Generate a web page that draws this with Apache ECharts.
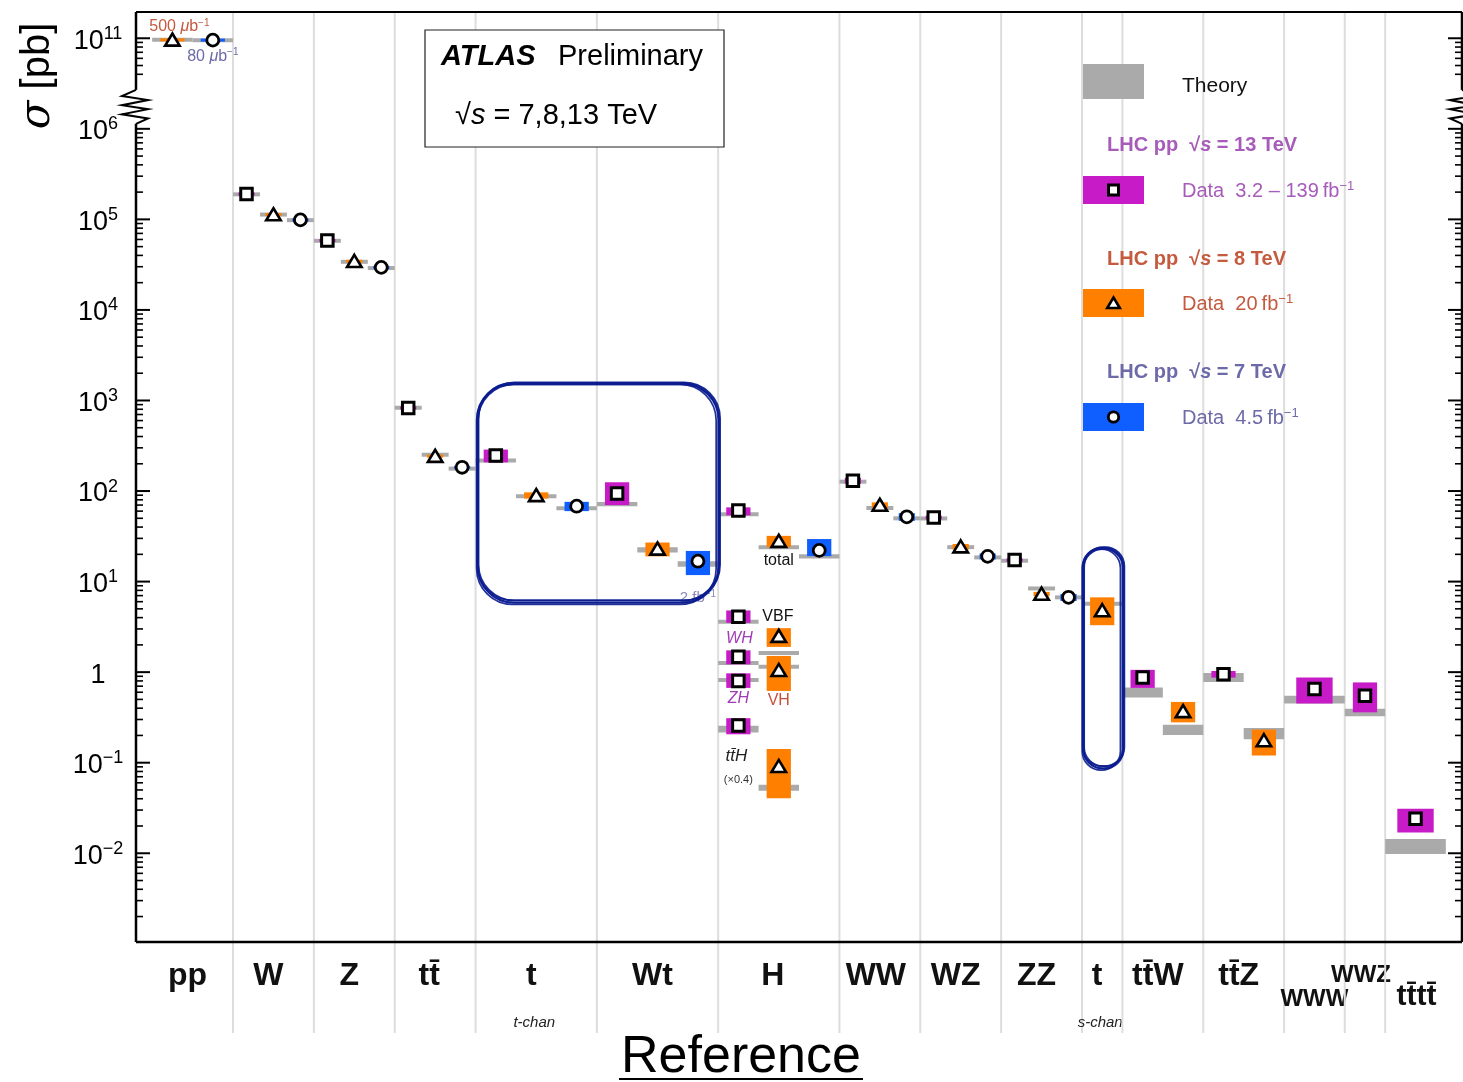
<!DOCTYPE html>
<html>
<head>
<meta charset="utf-8">
<script src="https://cdn.jsdelivr.net/npm/echarts@6/dist/echarts.min.js"></script>
<style>
  html, body { margin: 0; padding: 0; background: #ffffff; }
  #chart { width: 1463px; height: 1082px; }
</style>
</head>
<body>
<div id="chart"></div>
<script>
// ---------------- data ----------------
const categories = ['pp', 'W', 'Z', 'tt\u0304', 't', 'Wt', 'H', 'WW', 'WZ', 'ZZ', 't', 'tt\u0304W', 'tt\u0304Z', 'WWW', 'WWZ', 'tt\u0304tt\u0304'];
const categoryNotes = ['', '', '', '', 't-chan', '', '', '', '', '', 's-chan', '', '', '', '', ''];

// 13 TeV measurements [pb]
const names13  = ['W', 'Z', 'tt', 't-chan', 'Wt', 'H total', 'H VBF', 'H WH', 'H ZH', 'ttH x0.4', 'WW', 'WZ', 'ZZ', 'ttW', 'ttZ', 'WWW', 'WWZ', 'tttt'];
const val13    = [1.901e5, 5.843e4, 826, 247, 94, 61, 4.1, 1.48, 0.80, 0.258, 130, 51.0, 17.3, 0.87, 0.95, 0.65, 0.55, 0.024];
const errUp13  = [0.05e5, 0.15e4, 20, 40, 31, 5, 0.7, 0.26, 0.17, 0.052, 10, 2.4, 0.7, 0.19, 0.08, 0.22, 0.22, 0.007];
const errDn13  = [0.05e5, 0.15e4, 20, 40, 24, 7, 0.6, 0.26, 0.13, 0.052, 10, 2.4, 0.7, 0.20, 0.08, 0.20, 0.19, 0.007];
const theo13   = [1.89e5, 5.80e4, 832, 217, 71.7, 55.6, 3.6, 1.26, 0.82, 0.236, 127, 49.8, 17.0, 0.60, 0.88, 0.50, 0.36, 0.0121];
const theoErr13 = [0.04e5, 0.12e4, 30, 9, 3.8, 2.5, 0.1, 0.03, 0.03, 0.02, 4, 1.0, 0.5, 0.075, 0.10, 0.05, 0.035, 0.0023];

// 8 TeV measurements [pb]
const names8   = ['pp', 'W', 'Z', 'tt', 't-chan', 'Wt', 'H total', 'H VBF', 'H VH', 'ttH x0.4', 'WW', 'WZ', 'ZZ', 't s-chan', 'ttW', 'ttZ'];
const val8     = [9.607e10, 1.13e5, 3.45e4, 243, 89.6, 23.0, 28.0, 2.5, 1.05, 0.0914, 70, 24.3, 7.3, 4.8, 0.369, 0.176];
const errUp8   = [0.2e10, 0.03e5, 0.1e4, 8, 7.1, 4.0, 4.0, 0.56, 0.46, 0.050, 5, 1.7, 0.4, 1.9, 0.10, 0.056];
const errDn8   = [0.2e10, 0.03e5, 0.1e4, 8, 7.1, 4.0, 4.0, 0.60, 0.43, 0.051, 5, 1.7, 0.4, 1.5, 0.09, 0.056];
const theo8    = [9.65e10, 1.13e5, 3.40e4, 252, 87.8, 22.4, 24.0, 1.63, 1.15, 0.053, 65, 24.0, 8.4, 5.7, 0.232, 0.212];
const theoErr8 = [0.1e10, 0.03e5, 0.08e4, 10, 3, 1.5, 1.0, 0.04, 0.03, 0.004, 2, 0.5, 0.2, 0.2, 0.03, 0.03];

// 7 TeV measurements [pb]
const names7   = ['pp', 'W', 'Z', 'tt', 't-chan', 'Wt', 'H total', 'WW', 'WZ', 'ZZ'];
const val7     = [9.535e10, 9.87e4, 2.95e4, 183, 68, 16.8, 22.1, 51.9, 19.0, 6.7];
const errUp7   = [0.2e10, 0.25e4, 0.08e4, 6, 8, 5, 7.4, 5, 1.4, 0.6];
const errDn7   = [0.2e10, 0.25e4, 0.08e4, 6, 8, 5, 3.0, 5, 1.4, 0.6];
const theo7    = [9.5e10, 9.8e4, 2.9e4, 177, 64.6, 15.7, 19.0, 50, 18.5, 6.7];
const theoErr7 = [0.1e10, 0.2e4, 0.06e4, 8, 2, 1.1, 1.0, 2, 0.5, 0.2];

// y-axis tick labels (decades; the top one sits above the axis break)
const majorTickDecades = [-2, -1, 0, 1, 2, 3, 4, 5, 6, 11];
const majorTickLabels = ['{b|10}{s|\u22122}', '{b|10}{s|\u22121}', '{b|1}', '{b|10}{s|1}', '{b|10}{s|2}', '{b|10}{s|3}', '{b|10}{s|4}', '{b|10}{s|5}', '{b|10}{s|6}', '{b|10}{s|11}'];

// ---------------- layout ----------------
const X_MAX = 32.8;
const Y_MIN = -2.98, Y_MAX = 7.29;
const BREAK_SHIFT = 4;               // decades removed by the axis break (1e6 ... 1e10)
const catWidth = [2.4, 2, 2, 2, 3, 3, 3, 2, 2, 2, 1, 2, 2, 1.5, 1, 1.5];
const catLead  = [0.4, 0, 0, 0, 0, 0, 0, 0, 0, 0, 0, 0, 0, 0, 0, 0];
const catSlots = [2, 3, 3, 3, 3, 3, 3, 3, 3, 3, 1, 2, 2, 1, 1, 1];
const labelDx  = [3, -5, -5, -6, -5, -5, -6, -4, -5, -5, -5, -5, -5, 0, -4, 1];
const labelDy  = [34, 34, 34, 34, 34, 34, 34, 34, 34, 34, 34, 34, 34, 57, 33, 55];
const labelSize = [32, 32, 32, 32, 32, 32, 32, 32, 32, 32, 32, 32, 32, 24, 24, 30];

const cat13  = [1, 2, 3, 4, 5, 6, 6, 6, 6, 6, 7, 8, 9, 11, 12, 13, 14, 15];
const slot13 = cat13.map(() => 0);
const cat8   = [0, 1, 2, 3, 4, 5, 6, 6, 6, 6, 7, 8, 9, 10, 11, 12];
const slot8  = [0, 1, 1, 1, 1, 1, 1, 1, 1, 1, 1, 1, 1, 0, 1, 1];
const cat7   = [0, 1, 2, 3, 4, 5, 6, 7, 8, 9];
const slot7  = [1, 2, 2, 2, 2, 2, 2, 2, 2, 2];

const COL13 = '#c71bc8', COL8 = '#ff8000', COL7 = '#0f5eff', THEORY = '#aaaaaa';
const TXT13 = '#a65cb8', TXT8 = '#c45a3e', TXT7 = '#6c6aa8';
const FONT = '"Liberation Sans", Arial, Helvetica, sans-serif';
const MARK = 1.15;

const catStart = [];
{ let acc = 0; catWidth.forEach(w => { catStart.push(acc); acc += w; }); }
const slotWidth = c => (catWidth[c] - catLead[c]) / catSlots[c];
const slotCenter = (c, s) => catStart[c] + catLead[c] + slotWidth(c) * (s + 0.5);
// position on the broken log axis
const toAxis = v => { const l = Math.log10(v); return l >= 10 ? l - BREAK_SHIFT : l; };

// ---------------- build marks ----------------
function buildPoints(cats, slots, vals, up, dn, th, thErr, kind, color) {
  return vals.map((v, i) => ({
    x: slotCenter(cats[i], slots[i]), w: slotWidth(cats[i]),
    u: toAxis(v), lo: toAxis(v - dn[i]), hi: toAxis(v + up[i]),
    tlo: toAxis(th[i] - thErr[i]), thi: toAxis(th[i] + thErr[i]),
    kind, color
  }));
}
const points = [].concat(
  buildPoints(cat13, slot13, val13, errUp13, errDn13, theo13, theoErr13, 'sq', COL13),
  buildPoints(cat8, slot8, val8, errUp8, errDn8, theo8, theoErr8, 'tri', COL8),
  buildPoints(cat7, slot7, val7, errUp7, errDn7, theo7, theoErr7, 'circ', COL7)
);

function markerShape(kind, cx, cy, s) {
  s = s || 1;
  if (kind === 'sq') return { type: 'rect', shape: { x: cx - 5 * s, y: cy - 5 * s, width: 10 * s, height: 10 * s },
    style: { fill: '#fff', stroke: '#000', lineWidth: 3 } };
  if (kind === 'tri') return { type: 'polygon', shape: { points: [[cx, cy - 5.5 * s], [cx + 6.3 * s, cy + 5 * s], [cx - 6.3 * s, cy + 5 * s]] },
    style: { fill: '#fff', stroke: '#000', lineWidth: 2.6, lineJoin: 'miter' } };
  return { type: 'circle', shape: { cx, cy, r: 5.2 * s }, style: { fill: '#fff', stroke: '#000', lineWidth: 2.8 } };
}

function bandRect(api, x0, x1, lo, hi, minH, fill) {
  const a = api.coord([x0, hi]), b = api.coord([x1, lo]);
  let y0 = a[1], h = b[1] - a[1];
  if (h < minH) { y0 = (a[1] + b[1]) / 2 - minH / 2; h = minH; }
  return { type: 'rect', shape: { x: a[0], y: y0, width: b[0] - a[0], height: h }, style: { fill } };
}

// ---------------- axis ticks ----------------
const ticks = [];
majorTickDecades.forEach((d, i) => ticks.push({ u: d > 6 ? d - BREAK_SHIFT : d, major: true, label: majorTickLabels[i] }));
for (let d = -3; d <= 5; d++) for (let k = 2; k <= 9; k++) {
  const u = d + Math.log10(k);
  if (u > Y_MIN) ticks.push({ u, major: false });
}
for (let k = 4; k <= 9; k++) ticks.push({ u: 6 + Math.log10(k), major: false }); // 1e10 decade above the break

// ---------------- annotations near marks ----------------
const annotations = [
  { text: 'total', x: slotCenter(6, 1), v: val8[6], dx: 0, dy: 19, style: { fontSize: 16, fill: '#111' } },
  { text: 'VBF', x: slotCenter(6, 0), v: val13[6], dx: 24, dy: 0, align: 'left', style: { fontSize: 16, fill: '#111' } },
  { text: 'WH', x: slotCenter(6, 0), v: val13[7], dx: 1, dy: -18, style: { fontSize: 16, fill: '#a03cb4', fontStyle: 'italic' } },
  { text: 'ZH', x: slotCenter(6, 0), v: val13[8], dx: 0, dy: 18, style: { fontSize: 16, fill: '#a03cb4', fontStyle: 'italic' } },
  { text: 'VH', x: slotCenter(6, 1), v: val8[8], dx: 0, dy: 30, style: { fontSize: 16, fill: '#c8503a' } },
  { text: 'tt\u0304H', x: slotCenter(6, 0), v: val13[9], dx: -2, dy: 31, style: { fontSize: 17, fill: '#222', fontStyle: 'italic' } },
  { text: '(\u00d70.4)', x: slotCenter(6, 0), v: val13[9], dx: 0, dy: 55, style: { fontSize: 11, fill: '#333' } },
  { text: '500 {i|\u03bc}b{s|\u22121}', x: slotCenter(0, 0), v: val8[0], dx: 7, dy: -13, style: { fontSize: 16, fill: TXT8 } },
  { text: '80 {i|\u03bc}b{s|\u22121}', x: slotCenter(0, 1), v: val7[0], dx: 0, dy: 16, style: { fontSize: 16, fill: TXT7 } },
  { text: '2 fb{s|\u22121}', x: slotCenter(5, 2), v: val7[5], dx: 0, dy: 37, style: { fontSize: 15, fill: '#8a88bb' } }
];

const chart = echarts.init(document.getElementById('chart'), null, { renderer: 'canvas' });

const option = {
  animation: false,
  backgroundColor: '#ffffff',
  grid: { left: 136, top: 12, width: 1326, height: 930, show: false },
  xAxis: { type: 'value', min: 0, max: X_MAX, show: false },
  yAxis: { type: 'value', min: Y_MIN, max: Y_MAX, show: false },
  series: [
    { // category separators and labels
      type: 'custom', clip: false, z: 1,
      data: categories.map((c, i) => [catStart[i], 0]),
      encode: { x: 0, y: 1 },
      renderItem(params, api) {
        const i = params.dataIndex;
        const mid = api.coord([catStart[i] + catWidth[i] / 2, Y_MIN]);
        const children = [{
          type: 'text', x: mid[0] + labelDx[i], y: mid[1] + labelDy[i],
          style: { text: categories[i], font: `bold ${labelSize[i]}px ${FONT}`, fill: '#111', textAlign: 'center', textVerticalAlign: 'middle' }
        }];
        if (categoryNotes[i]) children.push({
          type: 'text', x: mid[0] - 2, y: mid[1] + 81,
          style: { text: categoryNotes[i], font: `italic 15px ${FONT}`, fill: '#222', textAlign: 'center', textVerticalAlign: 'middle' }
        });
        if (i < categories.length - 1) {
          const top = api.coord([catStart[i] + catWidth[i], Y_MAX]);
          children.push({ type: 'line', shape: { x1: top[0], y1: top[1], x2: top[0], y2: mid[1] + 91 },
            style: { stroke: '#dddddd', lineWidth: 2 } });
        }
        return { type: 'group', children };
      }
    },
    { // theory bands
      type: 'custom', z: 2,
      data: points.map(p => [p.x, p.u]),
      encode: { x: 0, y: 1 },
      renderItem(params, api) {
        const p = points[params.dataIndex];
        return bandRect(api, p.x - p.w / 2, p.x + p.w / 2, p.tlo, p.thi, 4, THEORY);
      }
    },
    { // measurement uncertainty boxes
      type: 'custom', z: 3,
      data: points.map(p => [p.x, p.u]),
      encode: { x: 0, y: 1 },
      renderItem(params, api) {
        const p = points[params.dataIndex];
        return bandRect(api, p.x - 0.3 * p.w, p.x + 0.3 * p.w, p.lo, p.hi, 3, p.color);
      }
    },
    { // central values
      type: 'custom', z: 4,
      data: points.map(p => [p.x, p.u]),
      encode: { x: 0, y: 1 },
      renderItem(params, api) {
        const p = points[params.dataIndex];
        const c = api.coord([p.x, p.u]);
        return markerShape(p.kind, c[0], c[1], MARK);
      }
    },
    { // y-axis ticks, both sides, with labels on the left
      type: 'custom', clip: false, z: 5,
      data: ticks.map(t => [0, t.u]),
      encode: { x: 0, y: 1 },
      renderItem(params, api) {
        const t = ticks[params.dataIndex];
        const l = api.coord([0, t.u]), r = api.coord([X_MAX, t.u]);
        const len = t.major ? 14 : 7, lw = t.major ? 2 : 1.6;
        const children = [
          { type: 'line', shape: { x1: l[0], y1: l[1], x2: l[0] + len, y2: l[1] }, style: { stroke: '#000', lineWidth: lw } },
          { type: 'line', shape: { x1: r[0], y1: r[1], x2: r[0] - len, y2: r[1] }, style: { stroke: '#000', lineWidth: lw } }
        ];
        if (t.label) children.push({
          type: 'text', x: l[0] - 38, y: l[1] + 3,
          style: {
            text: t.label, textAlign: 'center', textVerticalAlign: 'middle', fill: '#000',
            rich: {
              b: { fontFamily: FONT, fontSize: 27, fill: '#000' },
              s: { fontFamily: FONT, fontSize: 18, fill: '#000', padding: [0, 0, 15, 0] }
            }
          }
        });
        return { type: 'group', children };
      }
    },
    { // text labels attached to marks
      type: 'custom', clip: false, z: 6,
      data: annotations.map(a => [a.x, toAxis(a.v)]),
      encode: { x: 0, y: 1 },
      renderItem(params, api) {
        const a = annotations[params.dataIndex];
        const c = api.coord([a.x, toAxis(a.v)]);
        const fs = a.style.fontSize;
        return {
          type: 'text', x: c[0] + a.dx, y: c[1] + a.dy,
          style: {
            text: a.text, textAlign: a.align || 'center', textVerticalAlign: 'middle',
            fontFamily: FONT, fontSize: fs, fontStyle: a.style.fontStyle || 'normal', fill: a.style.fill,
            rich: {
              i: { fontFamily: FONT, fontSize: fs, fontStyle: 'italic', fill: a.style.fill },
              s: { fontFamily: FONT, fontSize: Math.round(fs * 0.65), fill: a.style.fill, padding: [0, 0, 8, 0] }
            }
          }
        };
      }
    }
  ]
};
chart.setOption(option);

// ---------------- frame, axis breaks, boxes, legend ----------------
const px = (x, u) => chart.convertToPixel({ gridIndex: 0 }, [x, u]);
const tl = px(0, Y_MAX), br = px(X_MAX, Y_MIN);
const brkTop = px(0, 6.43)[1], brkBot = px(0, 6.055)[1];

function zigzag(x0, dir) {
  const h = brkBot - brkTop, pts = [[x0, brkTop]];
  const fr = [0.18, 0.3, 0.45, 0.57, 0.72, 0.84];
  fr.forEach((f, k) => pts.push([x0 + (k % 2 === 0 ? -14 : 12) * dir, brkTop + f * h]));
  pts.push([x0, brkBot]);
  return pts;
}

const graphics = [];
// frame
graphics.push({ type: 'line', shape: { x1: tl[0], y1: tl[1], x2: br[0], y2: tl[1] }, style: { stroke: '#000', lineWidth: 2 }, z: 10 });
graphics.push({ type: 'line', shape: { x1: tl[0], y1: br[1], x2: br[0], y2: br[1] }, style: { stroke: '#000', lineWidth: 2.5 }, z: 10 });
[[tl[0], 1], [br[0], -1]].forEach(([x0, dir]) => {
  graphics.push({ type: 'line', shape: { x1: x0, y1: tl[1], x2: x0, y2: brkTop }, style: { stroke: '#000', lineWidth: 2.5 }, z: 10 });
  graphics.push({ type: 'polyline', shape: { points: zigzag(x0, dir) }, style: { stroke: '#000', lineWidth: 2, fill: null }, z: 10 });
  graphics.push({ type: 'line', shape: { x1: x0, y1: brkBot, x2: x0, y2: br[1] }, style: { stroke: '#000', lineWidth: 2.5 }, z: 10 });
});

// y-axis title
graphics.push({
  type: 'text', x: 38, y: 76, rotation: Math.PI / 2, z: 10,
  style: { text: '{i|\u03c3} [pb]', font: `40px ${FONT}`, fill: '#000', textAlign: 'center', textVerticalAlign: 'middle',
    rich: { i: { fontFamily: 'DejaVu Serif, serif', fontStyle: 'italic', fontSize: 42, fill: '#000' } } }
});

// ATLAS box
graphics.push({ type: 'rect', shape: { x: 425, y: 30, width: 299, height: 117 }, style: { fill: '#fff', stroke: '#222', lineWidth: 1.2 }, z: 8 });
graphics.push({ type: 'text', x: 441, y: 57, z: 9, style: { text: 'ATLAS', font: `italic bold 29px ${FONT}`, fill: '#000', textVerticalAlign: 'middle' } });
graphics.push({ type: 'text', x: 558, y: 57, z: 9, style: { text: 'Preliminary', font: `29px ${FONT}`, fill: '#000', textVerticalAlign: 'middle' } });
graphics.push({ type: 'text', x: 455, y: 116, z: 9, style: { text: '\u221a{i|s} = 7,8,13 TeV', font: `29px ${FONT}`, fill: '#000', textVerticalAlign: 'middle',
  rich: { i: { fontFamily: FONT, fontStyle: 'italic', fontSize: 29, fill: '#000' } } } });

// legend
const LX = 1083, LW = 61;
graphics.push({ type: 'rect', shape: { x: LX, y: 64, width: LW, height: 35 }, style: { fill: THEORY }, z: 9 });
graphics.push({ type: 'text', x: 1182, y: 86, z: 9, style: { text: 'Theory', font: `21px ${FONT}`, fill: '#111', textVerticalAlign: 'middle' } });
const legendRows = [
  { head: 145, box: 176, color: COL13, txt: TXT13, kind: 'sq', energy: '13', data: 'Data  3.2 \u2013 139\u2009fb{s|\u22121}' },
  { head: 259, box: 289, color: COL8, txt: TXT8, kind: 'tri', energy: '8', data: 'Data  20\u2009fb{s|\u22121}' },
  { head: 372, box: 403, color: COL7, txt: TXT7, kind: 'circ', energy: '7', data: 'Data  4.5\u2009fb{s|\u22121}' }
];
legendRows.forEach(r => {
  graphics.push({ type: 'text', x: 1107, y: r.head, z: 9, style: {
    text: 'LHC pp  \u221a{i|s} = ' + r.energy + ' TeV', font: `bold 20px ${FONT}`, fill: r.txt, textVerticalAlign: 'middle',
    rich: { i: { fontFamily: FONT, fontStyle: 'italic', fontWeight: 'bold', fontSize: 20, fill: r.txt } } } });
  graphics.push({ type: 'rect', shape: { x: LX, y: r.box, width: LW, height: 28 }, style: { fill: r.color }, z: 9 });
  const m = markerShape(r.kind, LX + LW / 2, r.box + 14, 1.0);
  m.z = 10; graphics.push(m);
  graphics.push({ type: 'text', x: 1182, y: r.box + 15, z: 9, style: {
    text: r.data, font: `20px ${FONT}`, fill: r.txt, textVerticalAlign: 'middle',
    rich: { s: { fontFamily: FONT, fontSize: 13, fill: r.txt, padding: [0, 0, 10, 0] } } } });
});

// hand-drawn style outlines around the single-top channels
function sketchBox(x0, x1, u0, u1, radius) {
  const a = px(x0, u0), b = px(x1, u1);
  const offs = [[0, 0, 0], [1, -1, 1], [-1, 1, -1], [0.5, 1, 0.5], [-0.5, -0.5, 1.5]];
  offs.forEach(([dx, dy, dw]) => graphics.push({
    type: 'rect', z: 11,
    shape: { x: a[0] + dx, y: a[1] + dy, width: b[0] - a[0] + dw, height: b[1] - a[1] - dw, r: radius },
    style: { fill: null, stroke: '#0a1c8f', lineWidth: 1.7, opacity: 0.9 }
  }));
}
sketchBox(catStart[4] + 0.05, catStart[6], 3.19, 0.77, 36);
sketchBox(catStart[10] + 0.03, catStart[11], 1.37, -1.06, 19);

// title below the axis
graphics.push({ type: 'text', x: 741, y: 1058, z: 9, style: { text: 'Reference', font: `52px ${FONT}`, fill: '#000', textAlign: 'center', textVerticalAlign: 'middle' } });
graphics.push({ type: 'line', shape: { x1: 619, y1: 1079, x2: 863, y2: 1079 }, style: { stroke: '#000', lineWidth: 2 }, z: 9 });

chart.setOption({ graphic: graphics });
</script>
</body>
</html>
